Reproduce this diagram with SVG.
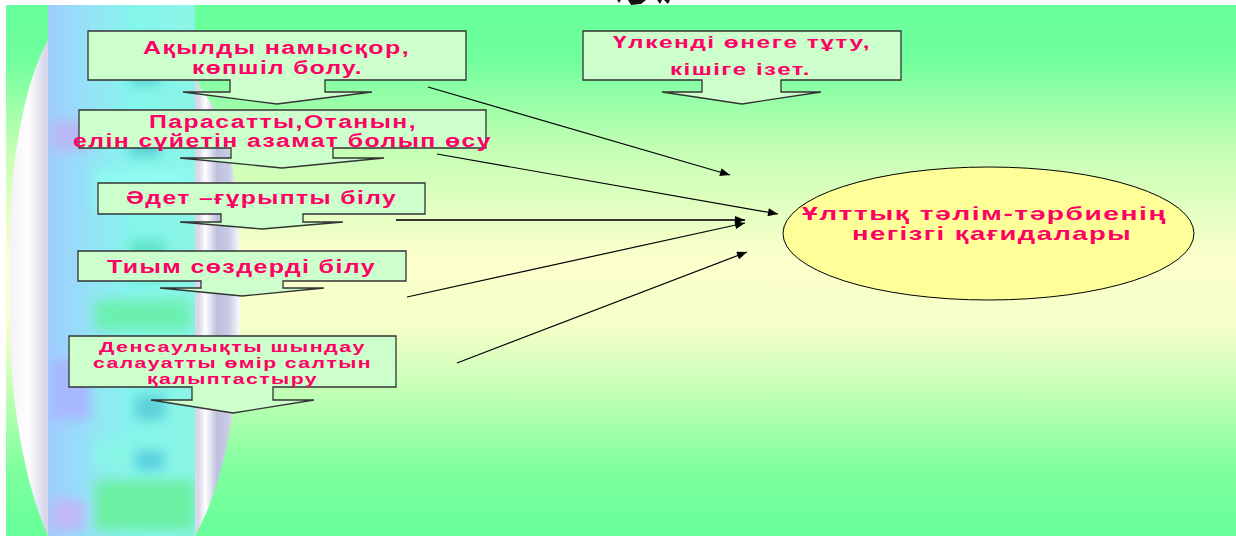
<svg xmlns="http://www.w3.org/2000/svg" width="1236" height="537" viewBox="0 0 1236 537">
<defs>
<linearGradient id="bg" x1="0" y1="0" x2="0" y2="1">
<stop offset="0" stop-color="#66FF99"/>
<stop offset="0.1" stop-color="#70FF9C"/>
<stop offset="0.27" stop-color="#C4FFB4"/>
<stop offset="0.48" stop-color="#FCFFCC"/>
<stop offset="0.61" stop-color="#F4FFC8"/>
<stop offset="0.76" stop-color="#B4FFB0"/>
<stop offset="0.87" stop-color="#80FF9E"/>
<stop offset="1" stop-color="#66FF99"/>
</linearGradient>
<linearGradient id="tube" x1="10" y1="0" x2="240" y2="0" gradientUnits="userSpaceOnUse">
<stop offset="0" stop-color="#F4F2FA"/>
<stop offset="0.08" stop-color="#FFFFFF"/>
<stop offset="0.15" stop-color="#D8D8EA"/>
<stop offset="0.82" stop-color="#D8D8EA"/>
<stop offset="0.85" stop-color="#FFFFFF"/>
<stop offset="0.9" stop-color="#BCC0DC"/>
<stop offset="0.95" stop-color="#C8CCE4"/>
<stop offset="1" stop-color="#FAFAFF"/>
</linearGradient>
<linearGradient id="strip" x1="48" y1="0" x2="195" y2="0" gradientUnits="userSpaceOnUse">
<stop offset="0" stop-color="#A0CCFF"/>
<stop offset="0.3" stop-color="#94E4F6"/>
<stop offset="0.6" stop-color="#84F6EA"/>
<stop offset="1" stop-color="#8CF4E6"/>
</linearGradient>
<filter id="blur" x="-20%" y="-20%" width="140%" height="140%"><feGaussianBlur stdDeviation="6"/></filter>
<clipPath id="stripClip"><rect x="48" y="5" width="147" height="531"/></clipPath>
<marker id="ah" viewBox="0 0 10 8" refX="10" refY="4" markerWidth="11" markerHeight="8" markerUnits="userSpaceOnUse" orient="auto">
<path d="M0,0 L10,4 L0,8 Z" fill="#000"/>
</marker>
</defs>
<style>
.box{fill:#CCFFCC;stroke:#333;stroke-width:1.3}
.t{font-family:"Liberation Sans",Arial,sans-serif;font-weight:bold;fill:#FF0066;letter-spacing:1px}
.c{stroke:#000;stroke-width:1.2;fill:none;marker-end:url(#ah)}
</style>
<rect x="0" y="0" width="1236" height="537" fill="#FFFFFF"/>
<rect x="6" y="5" width="1230" height="531" fill="url(#bg)"/>
<g id="decoration">
<path d="M48,40 C26,80 12,150 10,230 V330 C12,420 28,490 48,536 H195 C226,480 240,400 240,300 C240,200 236,130 200,88 L195,70 V5 H48 Z" fill="url(#tube)"/>
<rect x="48" y="5" width="147" height="531" fill="url(#strip)"/>
<g clip-path="url(#stripClip)" filter="url(#blur)">
<rect x="50" y="120" width="40" height="30" fill="#B8B8F4"/>
<rect x="130" y="60" width="30" height="25" fill="#5CD0D8"/>
<rect x="130" y="135" width="30" height="22" fill="#5CD0D8"/>
<rect x="95" y="170" width="100" height="40" fill="#90FAF0"/>
<rect x="130" y="240" width="35" height="40" fill="#60E4C8"/>
<rect x="95" y="300" width="95" height="30" fill="#6CF0B0"/>
<rect x="50" y="360" width="40" height="60" fill="#A8B8FF"/>
<rect x="135" y="395" width="30" height="25" fill="#5CD0D8"/>
<rect x="95" y="440" width="100" height="30" fill="#88F6E6"/>
<rect x="95" y="480" width="100" height="50" fill="#6CF0A4"/>
<rect x="50" y="500" width="35" height="30" fill="#C0B8F8"/>
<rect x="135" y="450" width="30" height="20" fill="#58D0E0"/>
</g>
<path d="M617,0 H621 L619,3 Z M628,0 H646 L641,4 L631,5 Z M657,0 H662 L660,4 Z M664,0 H670 L668,4 Z" fill="#111"/>
</g>
<g id="connectors">
<line class="c" x1="428" y1="87" x2="730" y2="175"/>
<line class="c" x1="437" y1="154" x2="778" y2="214"/>
<line class="c" x1="396" y1="220" x2="745" y2="220" style="stroke:#333;stroke-width:1.8"/>
<line class="c" x1="407" y1="297" x2="745" y2="223"/>
<line class="c" x1="457" y1="363" x2="747" y2="252"/>
</g>
<g id="node1">
<path class="box" d="M88,31 H466 V80 H325 V92 H372 L277,104 L183,92 H230 V80 H88 Z"/>
<text class="t" x="143" y="54" font-size="18" textLength="267" lengthAdjust="spacingAndGlyphs">Ақылды намысқор,</text>
<text class="t" x="192" y="74" font-size="18" textLength="171" lengthAdjust="spacingAndGlyphs">көпшіл болу.</text>
</g>
<g id="node2">
<path class="box" d="M79,110 H486 V148 H333 V158 H384 L282,168 L180,158 H231 V148 H79 Z"/>
<text class="t" x="149" y="128" font-size="17.5" textLength="268" lengthAdjust="spacingAndGlyphs">Парасатты,Отанын,</text>
<text class="t" x="73" y="147" font-size="17.5" textLength="419" lengthAdjust="spacingAndGlyphs">елін сүйетін азамат болып өсу</text>
</g>
<g id="node3">
<path class="box" d="M98,183 H425 V214 H303 V222 H343 L262,229 L180,222 H221 V214 H98 Z"/>
<text class="t" x="126" y="204" font-size="18" textLength="271" lengthAdjust="spacingAndGlyphs">Әдет –ғұрыпты білу</text>
</g>
<g id="node4">
<path class="box" d="M78,251 H406 V281 H283 V288 H324 L242,296 L160,288 H201 V281 H78 Z"/>
<text class="t" x="107" y="273" font-size="18" textLength="269" lengthAdjust="spacingAndGlyphs">Тиым сөздерді білу</text>
</g>
<g id="node5">
<path class="box" d="M69,336 H396 V387 H273 V400 H314 L233,413 L151,400 H192 V387 H69 Z"/>
<text class="t" x="99" y="352" font-size="15" textLength="267" lengthAdjust="spacingAndGlyphs">Денсаулықты шындау</text>
<text class="t" x="93" y="368" font-size="15" textLength="279" lengthAdjust="spacingAndGlyphs">салауатты өмір салтын</text>
<text class="t" x="147" y="384" font-size="15" textLength="171" lengthAdjust="spacingAndGlyphs">қалыптастыру</text>
</g>
<g id="node6">
<path class="box" d="M583,31 H901 V80 H781 V92 H821 L742,104 L662,92 H702 V80 H583 Z"/>
<text class="t" x="613" y="48" font-size="16.5" textLength="258" lengthAdjust="spacingAndGlyphs">Үлкенді өнеге тұту,</text>
<text class="t" x="670" y="75" font-size="16.5" textLength="141" lengthAdjust="spacingAndGlyphs">кішіге ізет.</text>
</g>
<g id="node7">
<ellipse cx="988.5" cy="233.5" rx="205.5" ry="66.5" fill="#FFFF99" stroke="#000" stroke-width="1"/>
<text class="t" x="802" y="220" font-size="18.5" textLength="365" lengthAdjust="spacingAndGlyphs">Ұлттық тәлім-тәрбиенің</text>
<text class="t" x="852" y="240" font-size="18.5" textLength="280" lengthAdjust="spacingAndGlyphs">негізгі қағидалары</text>
</g>
</svg>
